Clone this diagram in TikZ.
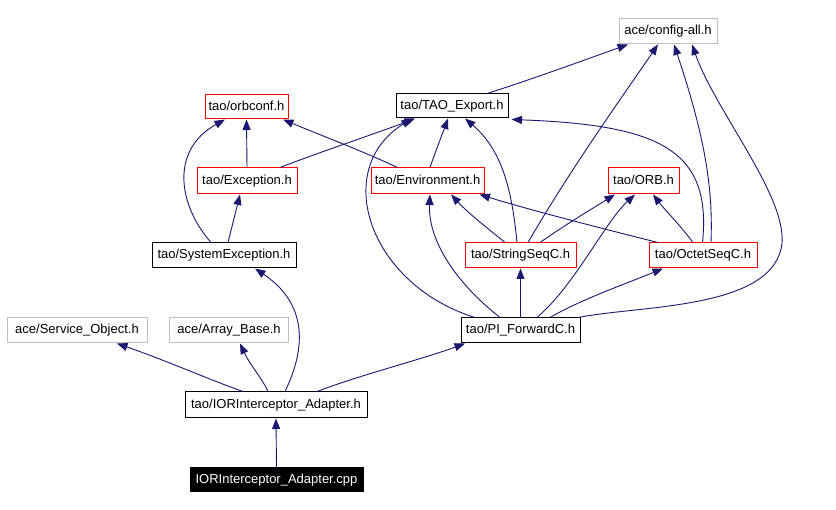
\documentclass[tikz,border=0pt]{standalone}
\usepackage{fontspec}
\setmainfont{Liberation Sans}
\usetikzlibrary{arrows.meta}
\definecolor{edgeblue}{RGB}{25,25,112}
\definecolor{boxgray}{RGB}{191,191,191}
\definecolor{boxred}{RGB}{255,0,0}
\begin{document}
\begin{tikzpicture}[x=1pt,y=-1pt,
  box/.style={draw, line width=1pt, inner sep=0pt, anchor=center,
    font=\fontsize{13}{15}\selectfont, text height=9.4pt, text depth=2.6pt},
  blackbox/.style={box, draw=black},
  redbox/.style={box, draw=boxred},
  graybox/.style={box, draw=boxgray},
  filebox/.style={box, draw=black, fill=black, text=white},
  dep/.style={draw=edgeblue, line width=0.9pt, -{Triangle[length=10.5pt,width=8pt]}, fill=none},
]
\fill[white] (0,0) rectangle (836,510);
\useasboundingbox (0,0) rectangle (836,510);

\node[graybox, minimum width=98pt, minimum height=25pt] (config) at (668,31.5) {ace/config-all.h};
\node[redbox, minimum width=83pt, minimum height=24pt] (orbconf) at (246.5,107) {tao/orbconf.h};
\node[blackbox, minimum width=112pt, minimum height=24pt] (tao) at (452,106) {tao/TAO\_Export.h};
\node[redbox, minimum width=100pt, minimum height=26pt] (exc) at (247,181) {tao/Exception.h};
\node[redbox, minimum width=113pt, minimum height=26pt] (env) at (427.5,181) {tao/Environment.h};
\node[redbox, minimum width=71pt, minimum height=26pt] (orb) at (643.5,181) {tao/ORB.h};
\node[blackbox, minimum width=144pt, minimum height=25pt] (sysexc) at (224,255.5) {tao/SystemException.h};
\node[redbox, minimum width=111pt, minimum height=25pt] (strseq) at (520.5,255.5) {tao/StringSeqC.h};
\node[redbox, minimum width=108pt, minimum height=25pt] (octseq) at (703,255.5) {tao/OctetSeqC.h};
\node[graybox, minimum width=140pt, minimum height=25pt] (svc) at (77,330.5) {ace/Service\_Object.h};
\node[graybox, minimum width=119pt, minimum height=25pt] (arr) at (229,330.5) {ace/Array\_Base.h};
\node[blackbox, minimum width=119pt, minimum height=25pt] (pifwd) at (520.5,330.5) {tao/PI\_ForwardC.h};
\node[blackbox, minimum width=182pt, minimum height=26pt] (iorh) at (276,405) {tao/IORInterceptor\_Adapter.h};
\node[filebox, minimum width=173pt, minimum height=24pt] (cpp) at (276.5,480) {IORInterceptor\_Adapter.cpp};

% TAO_Export
\draw[dep] ([xshift=35pt]tao.north) .. controls (530,80) and (590,58) .. ([xshift=-40pt]config.south);
% Exception
\draw[dep] (exc.north) -- (orbconf.south);
\draw[dep] ([xshift=33pt]exc.north) .. controls (320,152) and (380,132) .. ([xshift=-37pt]tao.south);
% Environment
\draw[dep] ([xshift=-30pt]env.north) .. controls (360,150) and (320,135) .. ([xshift=36.5pt]orbconf.south);
\draw[dep] ([xshift=2.5pt]env.north) .. controls (436,150) and (442,135) .. ([xshift=-4pt]tao.south);
% SystemException
\draw[dep] ([xshift=-13pt]sysexc.north) .. controls (178,205) and (170,150) .. ([xshift=-21.5pt]orbconf.south);
\draw[dep] ([xshift=4pt]sysexc.north) -- ([xshift=-7pt]exc.south);
% StringSeqC
\draw[dep] ([xshift=-3.5pt]strseq.north) .. controls (512,190) and (502,150) .. ([xshift=13pt]tao.south);
\draw[dep] ([xshift=-15.5pt]strseq.north) .. controls (490,230) and (470,215) .. ([xshift=23.5pt]env.south);
\draw[dep] ([xshift=7.5pt]strseq.north) .. controls (570,170) and (620,100) .. ([xshift=-10pt]config.south);
\draw[dep] ([xshift=19.5pt]strseq.north) .. controls (565,225) and (590,210) .. ([xshift=-28.5pt]orb.south);
% OctetSeqC
\draw[dep] ([xshift=-0.5pt]octseq.north) .. controls (712,150) and (660,125) .. ([xshift=3pt,yshift=-1pt]tao.south east);
\draw[dep] ([xshift=-45pt]octseq.north) .. controls (600,228) and (530,210) .. ([xshift=52pt]env.south);
\draw[dep] ([xshift=-10pt]octseq.north) .. controls (680,225) and (665,210) .. ([xshift=9.5pt]orb.south);
\draw[dep] ([xshift=8pt]octseq.north) .. controls (713,190) and (706,140) .. ([xshift=6pt]config.south);
% PI_ForwardC
\draw[dep] ([xshift=-45.5pt]pifwd.north) .. controls (370,285) and (330,170) .. ([xshift=-40pt]tao.south);
\draw[dep] ([xshift=-20.5pt]pifwd.north) .. controls (455,282) and (428,240) .. ([xshift=2.5pt]env.south);
\draw[dep] (pifwd.north) -- (strseq.south);
\draw[dep] ([xshift=16.5pt]pifwd.north) .. controls (575,285) and (605,222) .. ([xshift=-8.5pt]orb.south);
\draw[dep] ([xshift=29.5pt]pifwd.north) .. controls (580,300) and (625,284) .. ([xshift=-40pt]octseq.south);
\draw[dep] ([xshift=-2pt]pifwd.north east) .. controls (640,305) and (775,310) .. (782,243)
   .. controls (786,195) and (715,110) .. ([xshift=24pt]config.south);
% IORInterceptor_Adapter.h
\draw[dep] ([xshift=-33pt]iorh.north) .. controls (210,380) and (170,362) .. ([xshift=40pt]svc.south);
\draw[dep] ([xshift=-8pt]iorh.north) .. controls (262,378) and (250,365) .. ([xshift=11pt]arr.south);
\draw[dep] ([xshift=9pt]iorh.north) .. controls (310,340) and (302,300) .. ([xshift=31pt]sysexc.south);
\draw[dep] ([xshift=41pt]iorh.north) .. controls (360,375) and (420,360) .. ([xshift=-55.5pt]pifwd.south);
% cpp
\draw[dep] (cpp.north) -- (iorh.south);
\end{tikzpicture}
\end{document}
